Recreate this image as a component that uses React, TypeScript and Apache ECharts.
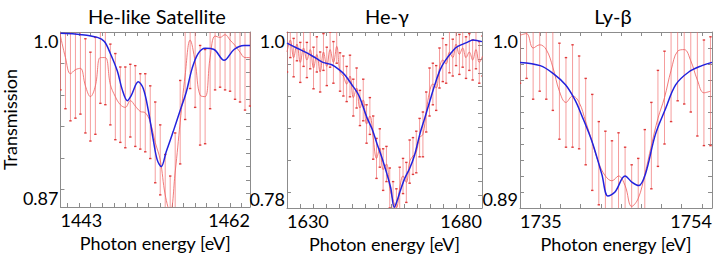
import React, { useEffect, useRef } from "react";
import * as echarts from "echarts";

// ---------- Panel 1: He-like Satellite ----------
const P1_E = [1443.0, 1443.5, 1444.0, 1444.5, 1445.0, 1445.5, 1446.0, 1446.5, 1447.0, 1447.5, 1448.0, 1448.5, 1449.0, 1449.5, 1450.0, 1450.5, 1451.0, 1451.5, 1452.0, 1452.5, 1453.0, 1453.5, 1454.0, 1454.5, 1455.0, 1455.5, 1456.0, 1456.5, 1457.0, 1457.5, 1458.0, 1458.5, 1459.0, 1459.5, 1460.0, 1460.5, 1461.0, 1461.5, 1462.0];
const P1_T = [0.997, 0.981, 0.969, 0.972, 0.973, 0.960, 0.952, 0.960, 0.981, 0.981, 0.961, 0.952, 0.946, 0.944, 0.949, 0.945, 0.941, 0.940, 0.933, 0.918, 0.905, 0.879, 0.866, 0.896, 0.933, 0.968, 0.994, 0.978, 0.953, 0.952, 0.981, 0.997, 0.996, 0.998, 0.994, 0.990, 0.985, 0.981, 0.981];
const P1_ERR = [0.040, 0.038, 0.035, 0.036, 0.034, 0.035, 0.033, 0.036, 0.034, 0.035, 0.030, 0.032, 0.028, 0.030, 0.027, 0.030, 0.028, 0.029, 0.027, 0.030, 0.026, 0.030, 0.027, 0.029, 0.031, 0.033, 0.036, 0.034, 0.037, 0.035, 0.038, 0.040, 0.037, 0.041, 0.038, 0.040, 0.037, 0.039, 0.036];
const P1_MODEL_E = [1443.0, 1445.1, 1446.7, 1447.4, 1448.0, 1448.7, 1449.2, 1449.7, 1450.1, 1450.8, 1451.3, 1451.8, 1452.3, 1452.7, 1453.1, 1453.6, 1454.3, 1455.1, 1455.6, 1456.2, 1456.8, 1457.5, 1458.4, 1459.4, 1460.4, 1461.4, 1462.0];
const P1_MODEL_T = [0.999, 0.998, 0.996, 0.993, 0.984, 0.971, 0.957, 0.949, 0.953, 0.963, 0.958, 0.942, 0.920, 0.905, 0.900, 0.911, 0.926, 0.944, 0.955, 0.973, 0.984, 0.988, 0.987, 0.979, 0.987, 0.990, 0.990];
const P1_XTICKS = [1443.7, 1444.9, 1446.0, 1447.2, 1448.4, 1449.5, 1450.7, 1451.8, 1453.0, 1454.2, 1455.3, 1456.5, 1457.6, 1458.8, 1460.0, 1461.1];
const P1_YTICKS_L = [0.977, 0.953, 0.930, 0.906, 0.883];
const P1_YTICKS_R = [0.99, 0.98, 0.97, 0.96, 0.95, 0.94, 0.93, 0.92, 0.91, 0.90, 0.89, 0.88];

// ---------- Panel 2: He-gamma ----------
const P2_E = [1630.0, 1630.85, 1631.7, 1632.55, 1633.4, 1634.25, 1635.1, 1635.95, 1636.8, 1637.65, 1638.5, 1639.35, 1640.2, 1641.05, 1641.9, 1642.75, 1643.6, 1644.45, 1645.3, 1646.15, 1647.0, 1647.85, 1648.7, 1649.55, 1650.4, 1651.25, 1652.1, 1652.95, 1653.8, 1654.65, 1655.5, 1656.35, 1657.2, 1658.05, 1658.9, 1659.75, 1660.6, 1661.45, 1662.3, 1663.15, 1664.0, 1664.85, 1665.7, 1666.55, 1667.4, 1668.25, 1669.1, 1669.95, 1670.8, 1671.65, 1672.5, 1673.35, 1674.2, 1675.05, 1675.9, 1676.75, 1677.6, 1678.45, 1679.3, 1680.15];
const P2_T = [0.975, 0.990, 0.968, 0.985, 0.962, 0.980, 0.965, 0.978, 0.955, 0.972, 0.950, 0.975, 0.957, 0.978, 0.962, 0.982, 0.950, 0.945, 0.935, 0.945, 0.918, 0.930, 0.905, 0.915, 0.885, 0.895, 0.868, 0.842, 0.855, 0.828, 0.835, 0.805, 0.790, 0.780, 0.805, 0.820, 0.812, 0.838, 0.845, 0.850, 0.868, 0.872, 0.900, 0.925, 0.935, 0.930, 0.955, 0.965, 0.960, 0.975, 0.968, 0.985, 0.972, 0.980, 0.968, 0.975, 0.965, 0.978, 0.962, 0.970];
const P2_ERR = [0.025, 0.022, 0.024, 0.021, 0.025, 0.023, 0.022, 0.024, 0.026, 0.022, 0.025, 0.023, 0.024, 0.022, 0.026, 0.021, 0.024, 0.025, 0.022, 0.026, 0.023, 0.025, 0.022, 0.026, 0.024, 0.023, 0.027, 0.025, 0.024, 0.026, 0.022, 0.025, 0.023, 0.024, 0.026, 0.022, 0.025, 0.027, 0.023, 0.026, 0.024, 0.028, 0.025, 0.030, 0.026, 0.028, 0.025, 0.027, 0.024, 0.026, 0.023, 0.027, 0.025, 0.024, 0.026, 0.023, 0.025, 0.024, 0.026, 0.025];
const P2_MODEL_E = [1630.0, 1632.5, 1635.1, 1637.5, 1639.2, 1641.5, 1643.6, 1644.9, 1646.5, 1648.4, 1650.5, 1651.8, 1653.1, 1654.4, 1655.6, 1656.6, 1657.5, 1658.3, 1659.0, 1660.2, 1661.5, 1662.7, 1664.1, 1665.3, 1666.7, 1667.9, 1669.2, 1670.4, 1672.6, 1673.8, 1676.2, 1677.7, 1680.0];
const P2_MODEL_T = [0.986, 0.980, 0.974, 0.967, 0.962, 0.959, 0.952, 0.946, 0.935, 0.921, 0.893, 0.879, 0.860, 0.842, 0.823, 0.805, 0.781, 0.790, 0.801, 0.817, 0.830, 0.846, 0.873, 0.892, 0.915, 0.934, 0.952, 0.963, 0.977, 0.982, 0.987, 0.990, 0.988];
const P2_XTICKS = [1633.3, 1636.7, 1640, 1643.3, 1646.7, 1650, 1653.3, 1656.7, 1660, 1663.3, 1666.7, 1670, 1673.3, 1676.7];
const P2_YTICKS_L = [0.96, 0.92, 0.88, 0.84, 0.80];
const P2_YTICKS_R = [0.983, 0.966, 0.949, 0.932, 0.915, 0.898, 0.881, 0.864, 0.847, 0.830, 0.813, 0.796];

// ---------- Panel 3: Ly-beta ----------
const P3_E = [1735.0, 1735.65, 1736.3, 1736.95, 1737.6, 1738.25, 1738.9, 1739.55, 1740.2, 1740.85, 1741.5, 1742.15, 1742.8, 1743.45, 1744.1, 1744.75, 1745.4, 1746.05, 1746.7, 1747.35, 1748.0, 1748.65, 1749.3, 1749.95, 1750.6, 1751.25, 1751.9, 1752.55, 1753.2, 1753.85];
const P3_T = [0.998, 0.999, 0.990, 0.992, 0.989, 0.978, 0.963, 0.956, 0.960, 0.956, 0.944, 0.931, 0.918, 0.910, 0.907, 0.910, 0.904, 0.891, 0.896, 0.911, 0.929, 0.946, 0.959, 0.976, 0.988, 0.989, 0.982, 0.970, 0.962, 0.963];
const P3_ERR = [0.030, 0.028, 0.032, 0.029, 0.031, 0.027, 0.030, 0.028, 0.032, 0.029, 0.027, 0.030, 0.026, 0.028, 0.025, 0.027, 0.024, 0.026, 0.025, 0.028, 0.027, 0.030, 0.029, 0.032, 0.031, 0.034, 0.032, 0.035, 0.033, 0.034];
const P3_MODEL_E = [1735.0, 1737.0, 1738.3, 1739.5, 1740.4, 1741.1, 1742.1, 1743.1, 1743.7, 1744.4, 1745.4, 1746.1, 1746.75, 1747.4, 1748.4, 1749.4, 1750.4, 1751.7, 1753.0, 1754.0];
const P3_MODEL_T = [0.981, 0.979, 0.974, 0.967, 0.958, 0.948, 0.932, 0.911, 0.8975, 0.900, 0.910, 0.906, 0.904, 0.911, 0.936, 0.952, 0.967, 0.975, 0.979, 0.981];
const P3_XTICKS = [1737, 1739, 1741, 1743, 1745, 1747, 1749, 1751, 1753];
const P3_YTICKS_L = [0.99, 0.98, 0.97, 0.96, 0.95, 0.94, 0.93, 0.92, 0.91, 0.90];
const P3_YTICKS_R = [0.99, 0.98, 0.97, 0.96, 0.95, 0.94, 0.93, 0.92, 0.91, 0.90];

const TITLES = ["He-like Satellite", "He-\u03b3", "Ly-\u03b2"];
const X_NAME = "Photon energy [eV]";
const Y_NAME = "Transmission";

const FONT = "Lato";
const AXIS_COLOR = "#8c8c8c";

type Panel = {
  e: number[]; t: number[]; err: number[];
  me: number[]; mt: number[];
  xmin: number; xmax: number; ymin: number; ymax: number;
  xticks: number[]; ytl: number[]; ytr: number[];
  left: number; width: number; height: number;
  yLabels: string[];
  titleX: number;
};

const PANELS: Panel[] = [
  { e: P1_E, t: P1_T, err: P1_ERR, me: P1_MODEL_E, mt: P1_MODEL_T, xmin: 1443, xmax: 1462, ymin: 0.87, ymax: 1.0, xticks: P1_XTICKS, ytl: P1_YTICKS_L, ytr: P1_YTICKS_R, left: 55, width: 195, height: 175, yLabels: ["0.87", "1.0"], titleX: 157 },
  { e: P2_E, t: P2_T, err: P2_ERR, me: P2_MODEL_E, mt: P2_MODEL_T, xmin: 1630, xmax: 1680, ymin: 0.78, ymax: 1.0, xticks: P2_XTICKS, ytl: P2_YTICKS_L, ytr: P2_YTICKS_R, left: 287, width: 195, height: 176, yLabels: ["0.78", "1.0"], titleX: 387 },
  { e: P3_E, t: P3_T, err: P3_ERR, me: P3_MODEL_E, mt: P3_MODEL_T, xmin: 1735, xmax: 1754, ymin: 0.89, ymax: 1.0, xticks: P3_XTICKS, ytl: P3_YTICKS_L, ytr: P3_YTICKS_R, left: 520, width: 192, height: 176, yLabels: ["0.89", "1.0"], titleX: 613 },
];

function buildOption() {
  const grid: any[] = [];
  const xAxis: any[] = [];
  const yAxis: any[] = [];
  const series: any[] = [];
  const graphic: any[] = [];

  PANELS.forEach((p, i) => {
    grid.push({ left: p.left, top: 32, width: p.width, height: p.height, containLabel: false });
    const tick = (vals: number[]) => ({ show: true, inside: true, length: 4, customValues: vals, lineStyle: { color: AXIS_COLOR, width: 1 } });
    const line = { show: true, onZero: false, lineStyle: { color: AXIS_COLOR, width: 1 } };
    xAxis.push({
      type: "value", gridIndex: i, position: "bottom", min: p.xmin, max: p.xmax,
      axisLine: line, axisTick: tick(p.xticks), splitLine: { show: false },
      axisLabel: {
        customValues: [p.xmin, p.xmax], formatter: (v: number) => String(Math.round(v)),
        alignMinLabel: "left", alignMaxLabel: "right", margin: 4,
        fontFamily: FONT, fontSize: 18, color: "#000",
      },
      name: X_NAME, nameLocation: "middle", nameGap: 25,
      nameTextStyle: { fontFamily: FONT, fontSize: 18, color: "#000" },
    });
    xAxis.push({
      type: "value", gridIndex: i, position: "top", min: p.xmin, max: p.xmax,
      axisLine: line, axisTick: tick(p.xticks), axisLabel: { show: false }, splitLine: { show: false },
    });
    yAxis.push({
      type: "value", gridIndex: i, position: "left", min: p.ymin, max: p.ymax,
      axisLine: line, axisTick: tick(p.ytl), splitLine: { show: false },
      axisLabel: {
        customValues: [p.ymin, p.ymax],
        formatter: (v: number) => (Math.abs(v - p.ymax) < 1e-9 ? p.yLabels[1] : p.yLabels[0]),
        verticalAlignMinLabel: "bottom", verticalAlignMaxLabel: "top", margin: 2,
        fontFamily: FONT, fontSize: 18, color: "#000",
      },
      ...(i === 0 ? { name: Y_NAME, nameLocation: "middle", nameGap: 35, nameTextStyle: { fontFamily: FONT, fontSize: 18, color: "#000" } } : {}),
    });
    yAxis.push({
      type: "value", gridIndex: i, position: "right", min: p.ymin, max: p.ymax,
      axisLine: line, axisTick: tick(p.ytr), axisLabel: { show: false }, splitLine: { show: false },
    });

    const barData = p.e.map((x, k) => [x, p.t[k] - p.err[k], p.t[k] + p.err[k]]);
    series.push({
      type: "custom", xAxisIndex: 2 * i, yAxisIndex: 2 * i, clip: true, silent: true,
      data: barData,
      renderItem: (params: any, api: any) => {
        const x = api.value(0);
        const lo = api.coord([x, api.value(1)]);
        const hi = api.coord([x, api.value(2)]);
        return {
          type: "group",
          children: [
            { type: "line", shape: { x1: lo[0], y1: lo[1], x2: hi[0], y2: hi[1] }, style: { stroke: "rgba(240,105,105,0.65)", lineWidth: 1 } },
            { type: "line", shape: { x1: lo[0] - 1.2, y1: lo[1], x2: lo[0] + 1.2, y2: lo[1] }, style: { stroke: "#e03a3a", lineWidth: 1.4 } },
            { type: "line", shape: { x1: hi[0] - 1.2, y1: hi[1], x2: hi[0] + 1.2, y2: hi[1] }, style: { stroke: "#e03a3a", lineWidth: 1.4 } },
          ],
        };
      },
    });
    series.push({
      type: "line", xAxisIndex: 2 * i, yAxisIndex: 2 * i, data: p.e.map((x, k) => [x, p.t[k]]),
      showSymbol: false, smooth: 0.4, clip: true, silent: true,
      lineStyle: { color: "rgba(238,100,100,0.85)", width: 1 },
    });
    series.push({
      type: "line", xAxisIndex: 2 * i, yAxisIndex: 2 * i, data: p.me.map((x, k) => [x, p.mt[k]]),
      showSymbol: false, smooth: 0.35, clip: true, silent: true,
      lineStyle: { color: "#2222dd", width: 1.5 },
    });

    graphic.push({
      type: "text", x: p.titleX, y: 16,
      style: { text: TITLES[i], fontFamily: FONT, fontSize: 20, fill: "#000", textAlign: "center", textVerticalAlign: "middle" },
    });
  });

  return { animation: false, backgroundColor: "#fff", grid, xAxis, yAxis, series, graphic };
}

export default function App() {
  const ref = useRef<HTMLDivElement>(null);
  useEffect(() => {
    if (!ref.current) return;
    const chart = echarts.init(ref.current, null, { renderer: "svg" });
    chart.setOption(buildOption() as any);
    return () => chart.dispose();
  }, []);
  return <div ref={ref} style={{ width: 720, height: 259, position: "absolute", left: 0, top: 0 }} />;
}
